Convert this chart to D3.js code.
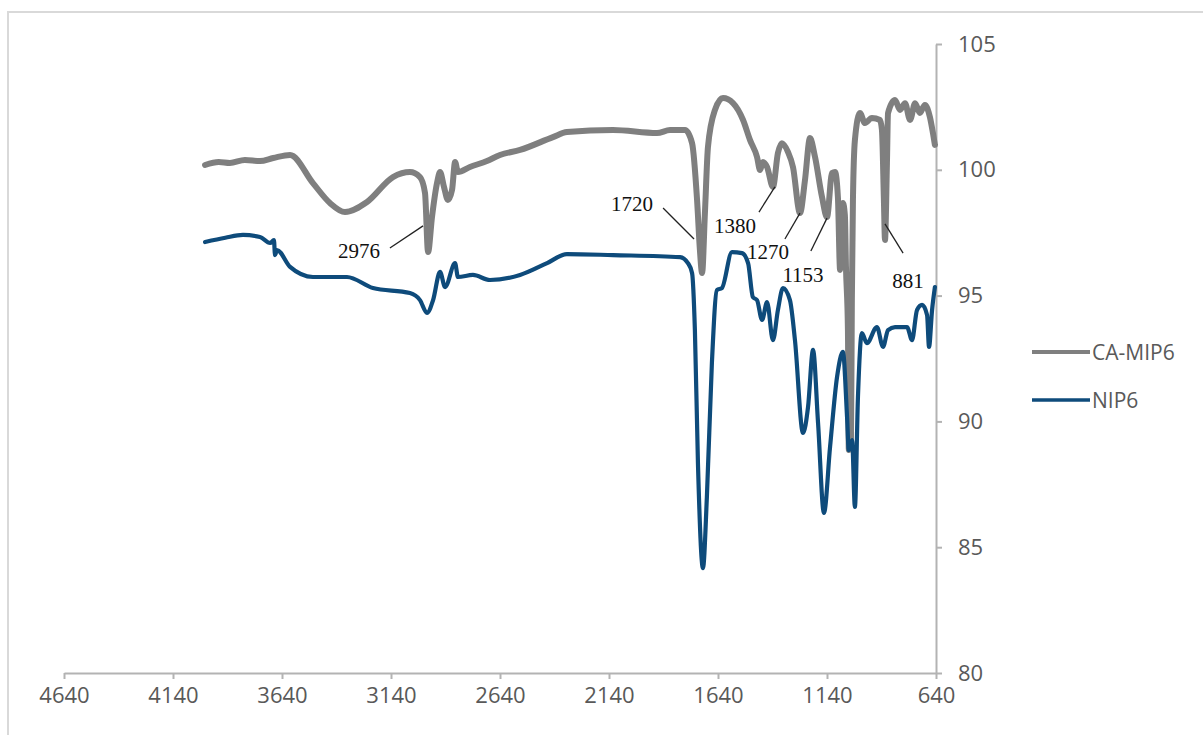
<!DOCTYPE html>
<html>
<head>
<meta charset="utf-8">
<script src="https://cdn.jsdelivr.net/npm/d3@7"></script>
<style>
  html, body { margin: 0; padding: 0; background: #ffffff; }
  svg { display: block; }
</style>
</head>
<body>
<svg id="chart" width="1203" height="735"></svg>
<script>
// ---------- DATA ----------
const xTicks = [4640, 4140, 3640, 3140, 2640, 2140, 1640, 1140, 640];
const yTicks = [80, 85, 90, 95, 100, 105];
const seriesNames = ["CA-MIP6", "NIP6"];

// CA-MIP6 (wavenumber, transmittance)
const caMipWave = [3993,3930,3879,3810,3741,3680,3603,3498,3420,3351,3250,3131,3053,3007,2984,2970,2952,2929,2915,2897,2879,2860,2846,2833,2778,2700,2640,2548,2397,2333,2122,1920,1860,1791,1759,1736,1723,1713,1700,1686,1654,1617,1571,1525,1493,1461,1447,1434,1415,1388,1365,1347,1319,1296,1264,1241,1218,1195,1163,1140,1117,1103,1090,1080,1067,1058,1053,1044,1040,1030,1026,1021,1012,989,966,934,897,888,879,874,865,860,828,805,782,759,736,714,691,668,654,645];
const caMipVal  = [100.19,100.31,100.27,100.39,100.35,100.47,100.59,99.47,98.68,98.32,98.72,99.71,99.91,99.71,99.08,96.73,98.12,99.47,99.91,99.32,98.80,99.20,100.31,99.91,100.11,100.35,100.59,100.79,101.30,101.50,101.58,101.46,101.58,101.58,101.06,98.80,96.81,95.90,98.28,100.91,102.38,102.85,102.65,101.98,101.18,100.51,99.99,100.31,100.11,99.32,100.67,101.06,100.71,100.11,98.28,99.59,101.26,100.51,98.92,98.12,99.87,99.91,98.92,96.02,98.68,98.20,96.14,93.63,88.86,89.26,94.82,98.80,101.18,102.26,101.86,102.06,101.98,101.58,98.80,97.21,100.27,102.26,102.77,102.38,102.65,101.98,102.65,102.26,102.58,102.10,101.46,100.99];

// NIP6 (wavenumber, transmittance)
const nipWave = [3993,3900,3819,3741,3695,3677,3672,3663,3603,3498,3342,3223,3053,3007,2975,2947,2915,2892,2846,2833,2764,2686,2548,2424,2333,2122,1814,1778,1759,1746,1732,1709,1691,1668,1645,1622,1576,1530,1502,1480,1461,1438,1415,1388,1365,1342,1310,1287,1250,1227,1204,1181,1154,1126,1094,1067,1048,1040,1025,1012,998,980,957,911,883,860,828,773,750,727,704,681,672,658,645];
const nipVal  = [97.13,97.30,97.41,97.33,97.09,97.21,96.61,96.81,96.14,95.74,95.74,95.30,95.10,94.82,94.31,94.82,95.94,95.34,96.29,95.74,95.82,95.62,95.82,96.29,96.65,96.61,96.53,96.29,95.90,93.63,88.34,84.17,86.99,92.32,95.22,95.30,96.73,96.69,96.29,94.94,94.82,94.03,94.74,93.23,94.43,95.30,94.82,93.23,89.54,90.57,92.84,89.93,86.36,88.98,91.76,92.76,90.17,88.86,89.26,86.60,90.97,93.51,93.11,93.75,92.96,93.63,93.75,93.75,93.23,94.43,94.63,94.23,92.96,94.43,95.34];

// Peak annotations: label, text position (wave, value), leader start, leader end
const annLabels = ["2976", "1720", "1380", "1270", "1153", "881"];
const annTextWave = [3287, 2035, 1562, 1411, 1250, 769];
const annTextVal  = [96.77, 98.64, 97.77, 96.73, 95.82, 95.58];
const annFromWave = [3145, 1892, 1452, 1333, 1214, 791];
const annFromVal  = [96.89, 98.48, 98.32, 97.25, 96.77, 96.69];
const annToWave   = [2993, 1750, 1379, 1264, 1140, 874];
const annToVal    = [97.77, 97.25, 99.32, 98.28, 98.08, 97.85];

// ---------- CHART ----------
const svg = d3.select("#chart");
const colors = ["#7f7f7f", "#0e4b7b"];
const widths = [6, 4.2];
const axisColor = "#b3b3b3";
const textColor = "#595959";
const sansFont = "'Open Sans', 'Liberation Sans', sans-serif";

// chart area border
svg.append("rect")
  .attr("x", 8).attr("y", 12)
  .attr("width", 1400).attr("height", 900)
  .attr("fill", "none").attr("stroke", "#d9d9d9").attr("stroke-width", 2);

const x = d3.scaleLinear().domain([4640, 640]).range([64, 936]);
const y = d3.scaleLinear().domain([80, 105]).range([673, 44]);

// X axis
const xAxis = svg.append("g")
  .attr("transform", `translate(0,${y(80)})`)
  .call(d3.axisBottom(x).tickValues(xTicks).tickFormat(d3.format("d")).tickSize(6).tickSizeOuter(0).tickPadding(8));
xAxis.select(".domain").attr("stroke", axisColor).attr("stroke-width", 2);
xAxis.selectAll(".tick line").attr("stroke", axisColor).attr("stroke-width", 2);
xAxis.selectAll(".tick text").attr("fill", textColor).style("font-family", sansFont).style("font-size", "22px");

// Y axis (on right)
const yAxis = svg.append("g")
  .attr("transform", `translate(${x(640)},0)`)
  .call(d3.axisRight(y).tickValues(yTicks).tickFormat(d3.format("d")).tickSize(6).tickSizeOuter(0).tickPadding(16));
yAxis.select(".domain").attr("stroke", axisColor).attr("stroke-width", 2);
yAxis.selectAll(".tick line").attr("stroke", axisColor).attr("stroke-width", 2);
yAxis.selectAll(".tick text").attr("fill", textColor).style("font-family", sansFont).style("font-size", "22px");

// Lines
const series = [
  d3.zip(caMipWave, caMipVal),
  d3.zip(nipWave, nipVal)
];
const line = d3.line().x(d => x(d[0])).y(d => y(d[1])).curve(d3.curveMonotoneX);

series.forEach((s, i) => {
  svg.append("path")
    .datum(s)
    .attr("d", line)
    .attr("fill", "none")
    .attr("stroke", colors[i])
    .attr("stroke-width", widths[i])
    .attr("stroke-linejoin", "round")
    .attr("stroke-linecap", "round");
});

// Annotations
annLabels.forEach((lab, i) => {
  svg.append("line")
    .attr("x1", x(annFromWave[i])).attr("y1", y(annFromVal[i]))
    .attr("x2", x(annToWave[i])).attr("y2", y(annToVal[i]))
    .attr("stroke", "#222").attr("stroke-width", 1.3);
  svg.append("text")
    .attr("x", x(annTextWave[i])).attr("y", y(annTextVal[i]))
    .attr("text-anchor", "middle")
    .attr("dominant-baseline", "central")
    .attr("fill", "#111")
    .style("font-family", "'Liberation Serif', 'DejaVu Serif', serif")
    .style("font-size", "21px")
    .text(lab);
});

// Legend
const legendY = [352, 400];
seriesNames.forEach((name, i) => {
  svg.append("line")
    .attr("x1", 1032).attr("x2", 1090)
    .attr("y1", legendY[i]).attr("y2", legendY[i])
    .attr("stroke", colors[i]).attr("stroke-width", i === 0 ? 4 : 3.5);
  svg.append("text")
    .attr("x", 1092).attr("y", legendY[i])
    .attr("dominant-baseline", "central")
    .attr("fill", textColor)
    .style("font-family", sansFont)
    .style("font-size", "21px")
    .text(name);
});
</script>
</body>
</html>
